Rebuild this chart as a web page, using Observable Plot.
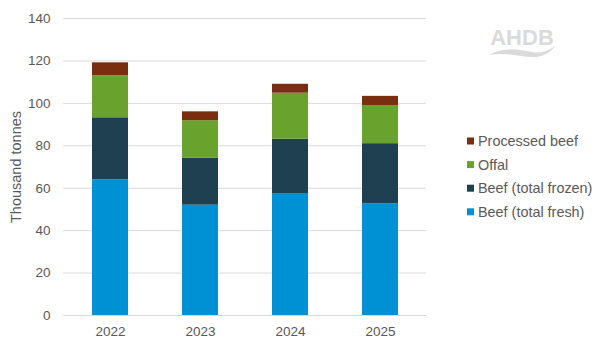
<!DOCTYPE html>
<html>
<head>
<meta charset="utf-8">
<script src="https://cdn.jsdelivr.net/npm/d3@7"></script>
<script src="https://cdn.jsdelivr.net/npm/@observablehq/plot@0.6"></script>
<style>
  html, body { margin: 0; padding: 0; background: #fff; }
  #chart { position: relative; width: 602px; height: 354px; }
  svg { font-family: "Liberation Sans", Arial, sans-serif; }
</style>
</head>
<body>
<div id="chart"></div>
<script>
const years = ["2022", "2023", "2024", "2025"];
const series = ["Beef (total fresh)", "Beef (total frozen)", "Offal", "Processed beef"];
const fresh = [64, 52, 57.5, 52.7];
const frozen = [29.2, 22.2, 25.6, 28.3];
const offal = [19.8, 17.6, 21.7, 18];
const processed = [6.1, 4.2, 4.2, 4.3];
const colors = ["#0090D4", "#1F4050", "#6AA22E", "#7A2E10"];
const yTicks = [0, 20, 40, 60, 80, 100, 120, 140];

const valuesBySeries = [fresh, frozen, offal, processed];
const data = [];
years.forEach((yr, i) => {
  series.forEach((s, j) => data.push({year: yr, series: s, value: valuesBySeries[j][i]}));
});

const textColor = "#595959";
const gridColor = "#d9d9d9";

const plot = Plot.plot({
  width: 602,
  height: 354,
  marginLeft: 63,
  marginRight: 176,
  marginTop: 18,
  marginBottom: 39,
  style: {fontFamily: "'Liberation Sans', Arial, sans-serif", fontSize: "13px", color: textColor, background: "#fff"},
  x: {domain: years, paddingInner: 0.6, paddingOuter: 0.3, label: null},
  y: {domain: [0, 140], ticks: yTicks, label: null},
  color: {domain: series, range: colors},
  marks: [
    Plot.gridY(yTicks, {stroke: gridColor, strokeOpacity: 1, strokeWidth: 1}),
    Plot.barY(data, {x: "year", y: "value", fill: "series", order: series}),
    Plot.axisY(yTicks, {tickSize: 0, tickPadding: 13, fontSize: 13.5, fill: textColor, label: null}),
    Plot.axisX({tickSize: 0, tickPadding: 11, fontSize: 13.5, fill: textColor, label: null}),
    Plot.text(["Thousand tonnes"], {frameAnchor: "left", dx: -47, rotate: -90, fill: textColor, fontSize: 14.5, textAnchor: "middle"})
  ]
});

document.getElementById("chart").appendChild(plot);

// Legend (top-down: Processed beef, Offal, frozen, fresh)
const svg = d3.select(plot);
const legendItems = series.slice().reverse();
const legendColors = colors.slice().reverse();
const lg = svg.append("g").attr("transform", "translate(467,141)").attr("text-anchor", "start");
legendItems.forEach((name, i) => {
  const g = lg.append("g").attr("transform", `translate(0,${i * 23.6})`);
  g.append("rect").attr("x", 0).attr("y", -3.5).attr("width", 7).attr("height", 7).attr("fill", legendColors[i]);
  g.append("text").attr("x", 11).attr("y", 0).attr("dy", "0.35em")
    .attr("text-anchor", "start")
    .attr("fill", textColor).attr("font-size", 14.4)
    .style("font-family", "'Liberation Sans', Arial, sans-serif")
    .text(name);
});

// AHDB watermark logo
const logo = svg.append("g").attr("fill", "#dadada");
logo.append("text").attr("x", 522).attr("y", 45).attr("text-anchor", "middle")
  .attr("font-size", 22).attr("font-weight", "bold")
  .style("font-family", "'Liberation Sans', Arial, sans-serif")
  .attr("fill", "#dadada")
  .text("AHDB");
logo.append("path")
  .attr("d", "M489,55 C505,46 520,50 532,52 C542,54 550,50 556,45 C550,54 540,58 530,57 C518,56 505,52 489,55 Z")
  .attr("fill", "#dadada");
</script>
</body>
</html>
